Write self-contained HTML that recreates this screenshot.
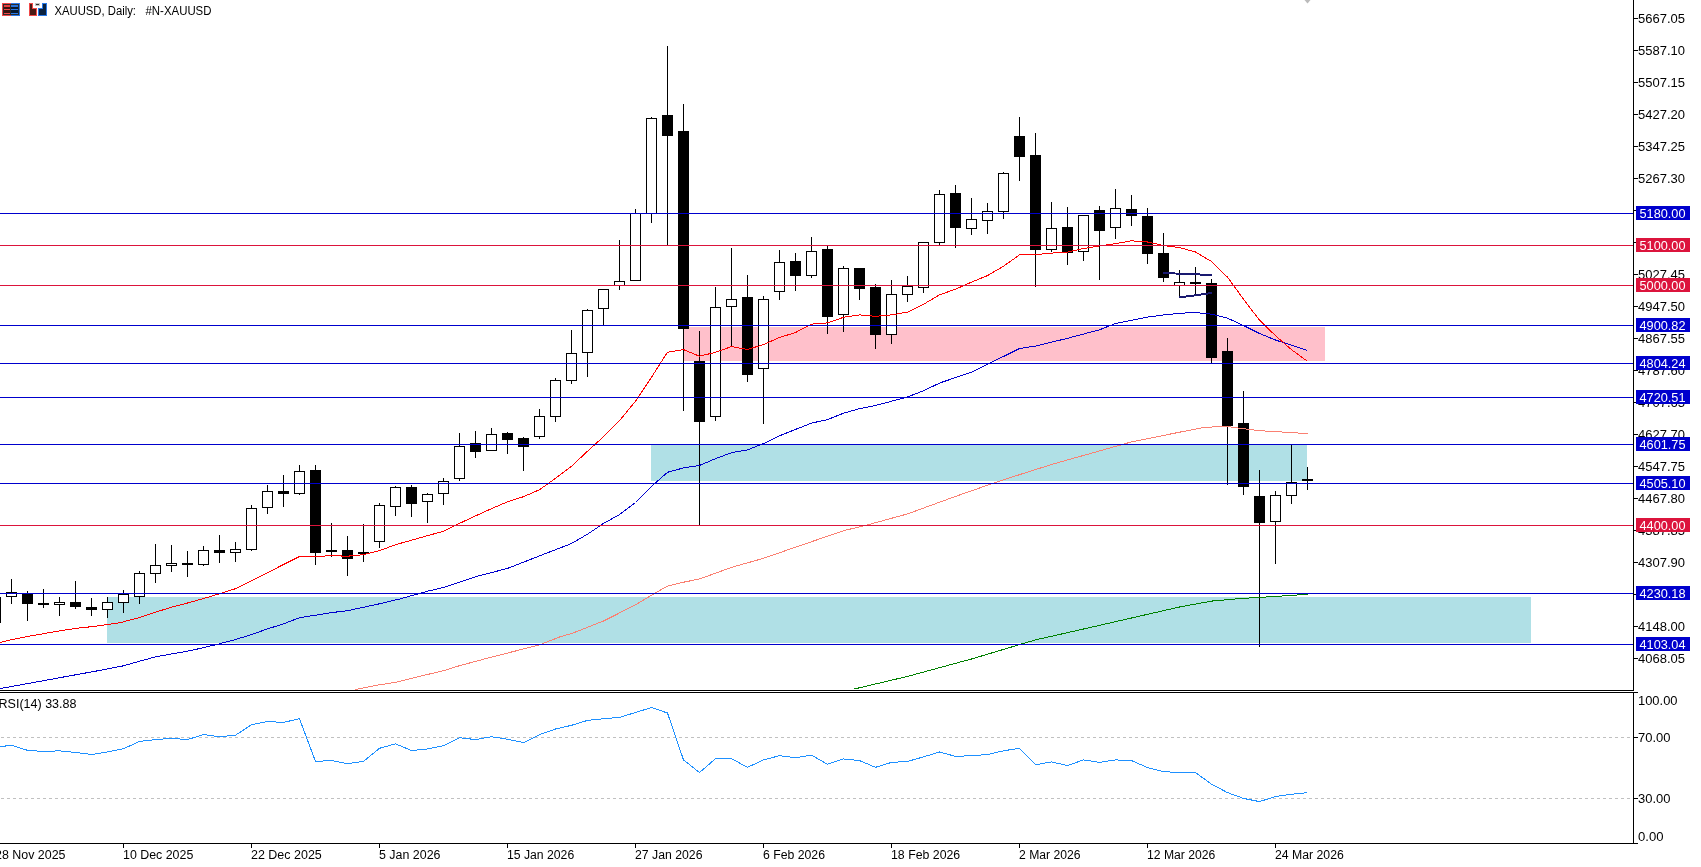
<!DOCTYPE html>
<html><head><meta charset="utf-8"><title>XAUUSD, Daily</title>
<style>html,body{margin:0;padding:0;background:#fff;overflow:hidden}svg{display:block;will-change:transform}
text{font-family:'Liberation Sans',Arial,sans-serif;font-size:12px}</style></head>
<body>
<svg width="1701" height="867" viewBox="0 0 1701 867" shape-rendering="crispEdges">
<rect x="0" y="0" width="1701" height="867" fill="#FFFFFF"/>
<defs><clipPath id="mc"><rect x="0" y="0" width="1633" height="690"/></clipPath><clipPath id="rc"><rect x="0" y="693" width="1633" height="150"/></clipPath></defs>
<g clip-path="url(#mc)">
<rect x="683" y="327" width="642" height="34" fill="#FFC0CB"/>
<rect x="651" y="445" width="656" height="36" fill="#B0E0E6"/>
<rect x="107" y="597" width="1424" height="46" fill="#B0E0E6"/>
<rect x="-5" y="590" width="1" height="39" fill="#000"/>
<rect x="-10" y="597" width="11" height="26" fill="#000"/>
<rect x="11" y="579" width="1" height="25" fill="#000"/>
<rect x="6" y="592" width="11" height="5" fill="#000"/>
<rect x="7" y="593" width="9" height="3" fill="#FFF"/>
<rect x="27" y="591" width="1" height="30" fill="#000"/>
<rect x="22" y="593" width="11" height="11" fill="#000"/>
<rect x="43" y="589" width="1" height="19" fill="#000"/>
<rect x="38" y="603" width="11" height="2" fill="#000"/>
<rect x="59" y="597" width="1" height="19" fill="#000"/>
<rect x="54" y="602" width="11" height="3" fill="#000"/>
<rect x="55" y="603" width="9" height="1" fill="#FFF"/>
<rect x="75" y="581" width="1" height="28" fill="#000"/>
<rect x="70" y="602" width="11" height="5" fill="#000"/>
<rect x="91" y="598" width="1" height="18" fill="#000"/>
<rect x="86" y="607" width="11" height="3" fill="#000"/>
<rect x="107" y="597" width="1" height="21" fill="#000"/>
<rect x="102" y="602" width="11" height="8" fill="#000"/>
<rect x="103" y="603" width="9" height="6" fill="#FFF"/>
<rect x="123" y="590" width="1" height="23" fill="#000"/>
<rect x="118" y="594" width="11" height="9" fill="#000"/>
<rect x="119" y="595" width="9" height="7" fill="#FFF"/>
<rect x="139" y="571" width="1" height="33" fill="#000"/>
<rect x="134" y="573" width="11" height="24" fill="#000"/>
<rect x="135" y="574" width="9" height="22" fill="#FFF"/>
<rect x="155" y="544" width="1" height="39" fill="#000"/>
<rect x="150" y="565" width="11" height="9" fill="#000"/>
<rect x="151" y="566" width="9" height="7" fill="#FFF"/>
<rect x="171" y="545" width="1" height="27" fill="#000"/>
<rect x="166" y="563" width="11" height="3" fill="#000"/>
<rect x="167" y="564" width="9" height="1" fill="#FFF"/>
<rect x="187" y="551" width="1" height="26" fill="#000"/>
<rect x="182" y="563" width="11" height="2" fill="#000"/>
<rect x="203" y="546" width="1" height="20" fill="#000"/>
<rect x="198" y="550" width="11" height="15" fill="#000"/>
<rect x="199" y="551" width="9" height="13" fill="#FFF"/>
<rect x="219" y="535" width="1" height="28" fill="#000"/>
<rect x="214" y="550" width="11" height="3" fill="#000"/>
<rect x="235" y="542" width="1" height="20" fill="#000"/>
<rect x="230" y="549" width="11" height="4" fill="#000"/>
<rect x="231" y="550" width="9" height="2" fill="#FFF"/>
<rect x="251" y="505" width="1" height="46" fill="#000"/>
<rect x="246" y="508" width="11" height="42" fill="#000"/>
<rect x="247" y="509" width="9" height="40" fill="#FFF"/>
<rect x="267" y="485" width="1" height="29" fill="#000"/>
<rect x="262" y="491" width="11" height="17" fill="#000"/>
<rect x="263" y="492" width="9" height="15" fill="#FFF"/>
<rect x="283" y="475" width="1" height="32" fill="#000"/>
<rect x="278" y="491" width="11" height="3" fill="#000"/>
<rect x="299" y="465" width="1" height="30" fill="#000"/>
<rect x="294" y="471" width="11" height="23" fill="#000"/>
<rect x="295" y="472" width="9" height="21" fill="#FFF"/>
<rect x="315" y="465" width="1" height="100" fill="#000"/>
<rect x="310" y="470" width="11" height="83" fill="#000"/>
<rect x="331" y="523" width="1" height="34" fill="#000"/>
<rect x="326" y="550" width="11" height="2" fill="#000"/>
<rect x="347" y="536" width="1" height="40" fill="#000"/>
<rect x="342" y="550" width="11" height="9" fill="#000"/>
<rect x="363" y="524" width="1" height="38" fill="#000"/>
<rect x="358" y="552" width="11" height="2" fill="#000"/>
<rect x="379" y="503" width="1" height="45" fill="#000"/>
<rect x="374" y="505" width="11" height="37" fill="#000"/>
<rect x="375" y="506" width="9" height="35" fill="#FFF"/>
<rect x="395" y="486" width="1" height="30" fill="#000"/>
<rect x="390" y="487" width="11" height="20" fill="#000"/>
<rect x="391" y="488" width="9" height="18" fill="#FFF"/>
<rect x="411" y="485" width="1" height="32" fill="#000"/>
<rect x="406" y="487" width="11" height="17" fill="#000"/>
<rect x="427" y="493" width="1" height="30" fill="#000"/>
<rect x="422" y="494" width="11" height="8" fill="#000"/>
<rect x="423" y="495" width="9" height="6" fill="#FFF"/>
<rect x="443" y="478" width="1" height="27" fill="#000"/>
<rect x="438" y="481" width="11" height="13" fill="#000"/>
<rect x="439" y="482" width="9" height="11" fill="#FFF"/>
<rect x="459" y="433" width="1" height="48" fill="#000"/>
<rect x="454" y="446" width="11" height="33" fill="#000"/>
<rect x="455" y="447" width="9" height="31" fill="#FFF"/>
<rect x="475" y="431" width="1" height="27" fill="#000"/>
<rect x="470" y="443" width="11" height="9" fill="#000"/>
<rect x="491" y="428" width="1" height="23" fill="#000"/>
<rect x="486" y="434" width="11" height="17" fill="#000"/>
<rect x="487" y="435" width="9" height="15" fill="#FFF"/>
<rect x="507" y="432" width="1" height="22" fill="#000"/>
<rect x="502" y="433" width="11" height="7" fill="#000"/>
<rect x="523" y="437" width="1" height="34" fill="#000"/>
<rect x="518" y="438" width="11" height="9" fill="#000"/>
<rect x="539" y="409" width="1" height="30" fill="#000"/>
<rect x="534" y="416" width="11" height="21" fill="#000"/>
<rect x="535" y="417" width="9" height="19" fill="#FFF"/>
<rect x="555" y="378" width="1" height="44" fill="#000"/>
<rect x="550" y="380" width="11" height="37" fill="#000"/>
<rect x="551" y="381" width="9" height="35" fill="#FFF"/>
<rect x="571" y="330" width="1" height="54" fill="#000"/>
<rect x="566" y="353" width="11" height="28" fill="#000"/>
<rect x="567" y="354" width="9" height="26" fill="#FFF"/>
<rect x="587" y="309" width="1" height="68" fill="#000"/>
<rect x="582" y="310" width="11" height="43" fill="#000"/>
<rect x="583" y="311" width="9" height="41" fill="#FFF"/>
<rect x="603" y="289" width="1" height="37" fill="#000"/>
<rect x="598" y="289" width="11" height="20" fill="#000"/>
<rect x="599" y="290" width="9" height="18" fill="#FFF"/>
<rect x="619" y="240" width="1" height="50" fill="#000"/>
<rect x="614" y="281" width="11" height="5" fill="#000"/>
<rect x="615" y="282" width="9" height="3" fill="#FFF"/>
<rect x="635" y="209" width="1" height="72" fill="#000"/>
<rect x="630" y="213" width="11" height="68" fill="#000"/>
<rect x="631" y="214" width="9" height="66" fill="#FFF"/>
<rect x="651" y="117" width="1" height="106" fill="#000"/>
<rect x="646" y="118" width="11" height="96" fill="#000"/>
<rect x="647" y="119" width="9" height="94" fill="#FFF"/>
<rect x="667" y="46" width="1" height="199" fill="#000"/>
<rect x="662" y="115" width="11" height="21" fill="#000"/>
<rect x="683" y="104" width="1" height="307" fill="#000"/>
<rect x="678" y="131" width="11" height="198" fill="#000"/>
<rect x="699" y="331" width="1" height="194" fill="#000"/>
<rect x="694" y="361" width="11" height="61" fill="#000"/>
<rect x="715" y="287" width="1" height="134" fill="#000"/>
<rect x="710" y="307" width="11" height="110" fill="#000"/>
<rect x="711" y="308" width="9" height="108" fill="#FFF"/>
<rect x="731" y="248" width="1" height="98" fill="#000"/>
<rect x="726" y="299" width="11" height="8" fill="#000"/>
<rect x="727" y="300" width="9" height="6" fill="#FFF"/>
<rect x="747" y="275" width="1" height="107" fill="#000"/>
<rect x="742" y="297" width="11" height="78" fill="#000"/>
<rect x="763" y="296" width="1" height="128" fill="#000"/>
<rect x="758" y="299" width="11" height="70" fill="#000"/>
<rect x="759" y="300" width="9" height="68" fill="#FFF"/>
<rect x="779" y="250" width="1" height="50" fill="#000"/>
<rect x="774" y="262" width="11" height="30" fill="#000"/>
<rect x="775" y="263" width="9" height="28" fill="#FFF"/>
<rect x="795" y="253" width="1" height="38" fill="#000"/>
<rect x="790" y="261" width="11" height="15" fill="#000"/>
<rect x="811" y="237" width="1" height="41" fill="#000"/>
<rect x="806" y="251" width="11" height="25" fill="#000"/>
<rect x="807" y="252" width="9" height="23" fill="#FFF"/>
<rect x="827" y="246" width="1" height="88" fill="#000"/>
<rect x="822" y="249" width="11" height="68" fill="#000"/>
<rect x="843" y="266" width="1" height="66" fill="#000"/>
<rect x="838" y="268" width="11" height="47" fill="#000"/>
<rect x="839" y="269" width="9" height="45" fill="#FFF"/>
<rect x="859" y="268" width="1" height="32" fill="#000"/>
<rect x="854" y="268" width="11" height="21" fill="#000"/>
<rect x="875" y="284" width="1" height="65" fill="#000"/>
<rect x="870" y="287" width="11" height="48" fill="#000"/>
<rect x="891" y="280" width="1" height="64" fill="#000"/>
<rect x="886" y="294" width="11" height="41" fill="#000"/>
<rect x="887" y="295" width="9" height="39" fill="#FFF"/>
<rect x="907" y="276" width="1" height="26" fill="#000"/>
<rect x="902" y="286" width="11" height="9" fill="#000"/>
<rect x="903" y="287" width="9" height="7" fill="#FFF"/>
<rect x="923" y="242" width="1" height="51" fill="#000"/>
<rect x="918" y="242" width="11" height="46" fill="#000"/>
<rect x="919" y="243" width="9" height="44" fill="#FFF"/>
<rect x="939" y="190" width="1" height="56" fill="#000"/>
<rect x="934" y="194" width="11" height="49" fill="#000"/>
<rect x="935" y="195" width="9" height="47" fill="#FFF"/>
<rect x="955" y="185" width="1" height="63" fill="#000"/>
<rect x="950" y="193" width="11" height="35" fill="#000"/>
<rect x="971" y="198" width="1" height="37" fill="#000"/>
<rect x="966" y="219" width="11" height="10" fill="#000"/>
<rect x="967" y="220" width="9" height="8" fill="#FFF"/>
<rect x="987" y="203" width="1" height="31" fill="#000"/>
<rect x="982" y="211" width="11" height="10" fill="#000"/>
<rect x="983" y="212" width="9" height="8" fill="#FFF"/>
<rect x="1003" y="172" width="1" height="47" fill="#000"/>
<rect x="998" y="173" width="11" height="39" fill="#000"/>
<rect x="999" y="174" width="9" height="37" fill="#FFF"/>
<rect x="1019" y="117" width="1" height="64" fill="#000"/>
<rect x="1014" y="136" width="11" height="21" fill="#000"/>
<rect x="1035" y="133" width="1" height="154" fill="#000"/>
<rect x="1030" y="155" width="11" height="95" fill="#000"/>
<rect x="1051" y="202" width="1" height="50" fill="#000"/>
<rect x="1046" y="228" width="11" height="22" fill="#000"/>
<rect x="1047" y="229" width="9" height="20" fill="#FFF"/>
<rect x="1067" y="207" width="1" height="58" fill="#000"/>
<rect x="1062" y="227" width="11" height="26" fill="#000"/>
<rect x="1083" y="215" width="1" height="46" fill="#000"/>
<rect x="1078" y="215" width="11" height="37" fill="#000"/>
<rect x="1079" y="216" width="9" height="35" fill="#FFF"/>
<rect x="1099" y="206" width="1" height="74" fill="#000"/>
<rect x="1094" y="210" width="11" height="21" fill="#000"/>
<rect x="1115" y="189" width="1" height="50" fill="#000"/>
<rect x="1110" y="208" width="11" height="20" fill="#000"/>
<rect x="1111" y="209" width="9" height="18" fill="#FFF"/>
<rect x="1131" y="195" width="1" height="31" fill="#000"/>
<rect x="1126" y="209" width="11" height="7" fill="#000"/>
<rect x="1147" y="208" width="1" height="56" fill="#000"/>
<rect x="1142" y="216" width="11" height="38" fill="#000"/>
<rect x="1163" y="233" width="1" height="49" fill="#000"/>
<rect x="1158" y="253" width="11" height="25" fill="#000"/>
<rect x="1179" y="270" width="1" height="28" fill="#000"/>
<rect x="1174" y="282" width="11" height="4" fill="#000"/>
<rect x="1175" y="283" width="9" height="2" fill="#FFF"/>
<rect x="1195" y="267" width="1" height="29" fill="#000"/>
<rect x="1190" y="282" width="11" height="2" fill="#000"/>
<rect x="1211" y="279" width="1" height="84" fill="#000"/>
<rect x="1206" y="283" width="11" height="75" fill="#000"/>
<rect x="1227" y="338" width="1" height="147" fill="#000"/>
<rect x="1222" y="351" width="11" height="75" fill="#000"/>
<rect x="1243" y="391" width="1" height="104" fill="#000"/>
<rect x="1238" y="423" width="11" height="64" fill="#000"/>
<rect x="1259" y="470" width="1" height="177" fill="#000"/>
<rect x="1254" y="496" width="11" height="27" fill="#000"/>
<rect x="1275" y="491" width="1" height="73" fill="#000"/>
<rect x="1270" y="495" width="11" height="27" fill="#000"/>
<rect x="1271" y="496" width="9" height="25" fill="#FFF"/>
<rect x="1291" y="445" width="1" height="59" fill="#000"/>
<rect x="1286" y="482" width="11" height="14" fill="#000"/>
<rect x="1287" y="483" width="9" height="12" fill="#FFF"/>
<rect x="1307" y="467" width="1" height="23" fill="#000"/>
<rect x="1302" y="479" width="11" height="2" fill="#000"/>
<path d="M355.5,689.5 L379.5,684.8 L395.5,682.3 L411.5,678.4 L427.5,674.5 L443.5,670.7 L459.5,665.7 L491.5,657.1 L539.5,644.9 L560.5,636.6 L571.5,633.6 L603.5,621.0 L635.5,604.9 L651.5,595.2 L667.5,586.1 L683.5,582.2 L699.5,579.0 L731.5,567.4 L763.5,558.3 L780.5,552.4 L843.5,530.7 L867.5,524.9 L907.5,513.9 L955.5,496.4 L1000.5,480.7 L1051.5,464.5 L1115.5,446.4 L1131.5,441.9 L1179.5,432.2 L1203.5,427.5 L1219.5,426.6 L1227.5,426.6 L1243.5,428.7 L1259.5,430.7 L1275.5,431.6 L1291.5,432.6 L1307.5,433.6" fill="none" stroke="#FA8072" stroke-width="1" />
<path d="M853.5,689.2 L907.5,676.4 L971.5,659.0 L1019.5,644.6 L1035.5,639.9 L1080.5,629.7 L1131.5,618.0 L1179.5,607.0 L1211.5,601.1 L1243.5,598.3 L1259.5,597.4 L1291.5,595.4 L1307.5,594.3" fill="none" stroke="#008000" stroke-width="1" />
<path d="M0.5,688.5 L107.5,669.0 L123.5,665.8 L139.5,661.2 L155.5,656.9 L171.5,654.0 L187.5,651.2 L203.5,647.7 L219.5,643.8 L235.5,639.5 L251.5,634.6 L267.5,628.9 L283.5,623.9 L299.5,617.7 L315.5,615.2 L331.5,612.6 L347.5,610.7 L379.5,603.8 L400.5,598.8 L427.5,591.2 L443.5,587.5 L475.5,576.7 L507.5,568.4 L539.5,555.9 L571.5,543.5 L587.5,534.2 L603.5,523.4 L619.5,514.6 L635.5,502.5 L651.5,486.4 L667.5,472.3 L683.5,467.9 L699.5,465.4 L715.5,458.7 L731.5,452.7 L747.5,449.9 L763.5,443.6 L779.5,435.8 L811.5,423.1 L827.5,419.6 L843.5,413.2 L859.5,408.6 L875.5,405.5 L907.5,397.0 L923.5,390.7 L940.5,382.7 L971.5,372.2 L987.5,364.4 L1019.5,348.5 L1035.5,346.1 L1067.5,338.3 L1099.5,329.8 L1115.5,323.5 L1147.5,317.1 L1163.5,315.0 L1179.5,313.3 L1195.5,312.5 L1211.5,314.2 L1227.5,318.2 L1243.5,325.5 L1259.5,333.5 L1275.5,340.0 L1291.5,345.2 L1307.5,350.5" fill="none" stroke="#0000CD" stroke-width="1" />
<path d="M0.5,642.5 L11.5,639.7 L27.5,636.5 L43.5,633.7 L59.5,630.9 L75.5,628.4 L91.5,626.7 L107.5,624.5 L120.5,622.6 L139.5,617.5 L155.5,612.2 L171.5,607.2 L187.5,603.0 L203.5,598.5 L219.5,593.8 L235.5,588.7 L299.5,556.5 L315.5,556.5 L331.5,555.7 L347.5,556.2 L363.5,554.7 L379.5,550.7 L395.5,544.7 L411.5,540.2 L427.5,535.7 L443.5,531.2 L459.5,523.4 L475.5,515.9 L491.5,508.7 L507.5,501.8 L523.5,496.7 L539.5,489.7 L555.5,478.3 L571.5,466.3 L587.5,451.2 L603.5,436.7 L619.5,420.7 L635.5,401.2 L651.5,377.2 L667.5,352.2 L683.5,349.6 L699.5,356.2 L715.5,352.3 L731.5,346.6 L747.5,349.5 L763.5,344.5 L779.5,337.5 L795.5,332.5 L811.5,324.1 L827.5,322.9 L843.5,317.3 L859.5,314.9 L875.5,316.3 L891.5,314.9 L907.5,312.1 L923.5,304.3 L939.5,294.8 L955.5,289.2 L971.5,282.1 L987.5,275.6 L1003.5,266.2 L1019.5,254.9 L1035.5,254.6 L1051.5,253.1 L1067.5,252.1 L1083.5,248.5 L1099.5,246.0 L1115.5,243.6 L1131.5,240.8 L1147.5,242.0 L1163.5,245.5 L1179.5,247.6 L1195.5,252.0 L1211.5,261.5 L1227.5,277.2 L1243.5,299.2 L1259.5,320.2 L1275.5,335.7 L1291.5,349.7 L1307.5,361.3" fill="none" stroke="#FF0000" stroke-width="1" />
<rect x="0" y="213" width="1633" height="1" fill="#0000CD"/>
<rect x="0" y="245" width="1633" height="1" fill="#DC143C"/>
<rect x="0" y="285" width="1633" height="1" fill="#DC143C"/>
<rect x="0" y="325" width="1633" height="1" fill="#0000CD"/>
<rect x="0" y="363" width="1633" height="1" fill="#0000CD"/>
<rect x="0" y="397" width="1633" height="1" fill="#0000CD"/>
<rect x="0" y="444" width="1633" height="1" fill="#0000CD"/>
<rect x="0" y="483" width="1633" height="1" fill="#0000CD"/>
<rect x="0" y="525" width="1633" height="1" fill="#DC143C"/>
<rect x="0" y="593" width="1633" height="1" fill="#0000CD"/>
<rect x="0" y="644" width="1633" height="1" fill="#0000CD"/>
<path d="M1163,273 L1212,275" stroke="#191970" stroke-width="2" fill="none"/>
<path d="M1179,297.5 L1212,293" stroke="#191970" stroke-width="2" fill="none"/>
</g>
<path d="M1304.5,0 L1310.5,0 L1307.5,3.5 Z" fill="#BBBBBB" shape-rendering="auto"/>
<rect x="1633" y="0" width="1" height="691" fill="#000"/>
<rect x="0" y="690" width="1634" height="1" fill="#000"/>
<rect x="0" y="692" width="1638" height="1" fill="#000"/>
<rect x="1633" y="692" width="1" height="152" fill="#000"/>
<rect x="0" y="843" width="1638" height="1" fill="#000"/>
<g style="font-family:'Liberation Sans',Arial,sans-serif;font-size:12px" fill="#000" shape-rendering="crispEdges">
<rect x="1634" y="18" width="4" height="1" fill="#000"/>
<text x="1638" y="22.5" textLength="47" lengthAdjust="spacingAndGlyphs" style="font-family:'Liberation Sans',Arial,sans-serif;font-size:12px">5667.05</text>
<rect x="1634" y="50" width="4" height="1" fill="#000"/>
<text x="1638" y="54.5" textLength="47" lengthAdjust="spacingAndGlyphs" style="font-family:'Liberation Sans',Arial,sans-serif;font-size:12px">5587.10</text>
<rect x="1634" y="82" width="4" height="1" fill="#000"/>
<text x="1638" y="86.5" textLength="47" lengthAdjust="spacingAndGlyphs" style="font-family:'Liberation Sans',Arial,sans-serif;font-size:12px">5507.15</text>
<rect x="1634" y="114" width="4" height="1" fill="#000"/>
<text x="1638" y="118.5" textLength="47" lengthAdjust="spacingAndGlyphs" style="font-family:'Liberation Sans',Arial,sans-serif;font-size:12px">5427.20</text>
<rect x="1634" y="146" width="4" height="1" fill="#000"/>
<text x="1638" y="150.5" textLength="47" lengthAdjust="spacingAndGlyphs" style="font-family:'Liberation Sans',Arial,sans-serif;font-size:12px">5347.25</text>
<rect x="1634" y="178" width="4" height="1" fill="#000"/>
<text x="1638" y="182.5" textLength="47" lengthAdjust="spacingAndGlyphs" style="font-family:'Liberation Sans',Arial,sans-serif;font-size:12px">5267.30</text>
<rect x="1634" y="210" width="4" height="1" fill="#000"/>
<text x="1638" y="214.5" textLength="47" lengthAdjust="spacingAndGlyphs" style="font-family:'Liberation Sans',Arial,sans-serif;font-size:12px">5187.35</text>
<rect x="1634" y="242" width="4" height="1" fill="#000"/>
<text x="1638" y="246.5" textLength="47" lengthAdjust="spacingAndGlyphs" style="font-family:'Liberation Sans',Arial,sans-serif;font-size:12px">5107.40</text>
<rect x="1634" y="274" width="4" height="1" fill="#000"/>
<text x="1638" y="278.5" textLength="47" lengthAdjust="spacingAndGlyphs" style="font-family:'Liberation Sans',Arial,sans-serif;font-size:12px">5027.45</text>
<rect x="1634" y="306" width="4" height="1" fill="#000"/>
<text x="1638" y="310.5" textLength="47" lengthAdjust="spacingAndGlyphs" style="font-family:'Liberation Sans',Arial,sans-serif;font-size:12px">4947.50</text>
<rect x="1634" y="338" width="4" height="1" fill="#000"/>
<text x="1638" y="342.5" textLength="47" lengthAdjust="spacingAndGlyphs" style="font-family:'Liberation Sans',Arial,sans-serif;font-size:12px">4867.55</text>
<rect x="1634" y="370" width="4" height="1" fill="#000"/>
<text x="1638" y="374.5" textLength="47" lengthAdjust="spacingAndGlyphs" style="font-family:'Liberation Sans',Arial,sans-serif;font-size:12px">4787.60</text>
<rect x="1634" y="402" width="4" height="1" fill="#000"/>
<text x="1638" y="406.5" textLength="47" lengthAdjust="spacingAndGlyphs" style="font-family:'Liberation Sans',Arial,sans-serif;font-size:12px">4707.65</text>
<rect x="1634" y="434" width="4" height="1" fill="#000"/>
<text x="1638" y="438.5" textLength="47" lengthAdjust="spacingAndGlyphs" style="font-family:'Liberation Sans',Arial,sans-serif;font-size:12px">4627.70</text>
<rect x="1634" y="466" width="4" height="1" fill="#000"/>
<text x="1638" y="470.5" textLength="47" lengthAdjust="spacingAndGlyphs" style="font-family:'Liberation Sans',Arial,sans-serif;font-size:12px">4547.75</text>
<rect x="1634" y="498" width="4" height="1" fill="#000"/>
<text x="1638" y="502.5" textLength="47" lengthAdjust="spacingAndGlyphs" style="font-family:'Liberation Sans',Arial,sans-serif;font-size:12px">4467.80</text>
<rect x="1634" y="530" width="4" height="1" fill="#000"/>
<text x="1638" y="534.5" textLength="47" lengthAdjust="spacingAndGlyphs" style="font-family:'Liberation Sans',Arial,sans-serif;font-size:12px">4387.85</text>
<rect x="1634" y="562" width="4" height="1" fill="#000"/>
<text x="1638" y="566.5" textLength="47" lengthAdjust="spacingAndGlyphs" style="font-family:'Liberation Sans',Arial,sans-serif;font-size:12px">4307.90</text>
<rect x="1634" y="594" width="4" height="1" fill="#000"/>
<text x="1638" y="598.5" textLength="47" lengthAdjust="spacingAndGlyphs" style="font-family:'Liberation Sans',Arial,sans-serif;font-size:12px">4227.95</text>
<rect x="1634" y="626" width="4" height="1" fill="#000"/>
<text x="1638" y="630.5" textLength="47" lengthAdjust="spacingAndGlyphs" style="font-family:'Liberation Sans',Arial,sans-serif;font-size:12px">4148.00</text>
<rect x="1634" y="658" width="4" height="1" fill="#000"/>
<text x="1638" y="662.5" textLength="47" lengthAdjust="spacingAndGlyphs" style="font-family:'Liberation Sans',Arial,sans-serif;font-size:12px">4068.05</text>
</g>
<rect x="1636" y="206" width="54" height="14" fill="#0000CD"/>
<text x="1639.5" y="217.5" fill="#FFF" textLength="46" lengthAdjust="spacingAndGlyphs" style="font-family:'Liberation Sans',Arial,sans-serif;font-size:12px">5180.00</text>
<rect x="1636" y="238" width="54" height="14" fill="#DC143C"/>
<text x="1639.5" y="249.5" fill="#FFF" textLength="46" lengthAdjust="spacingAndGlyphs" style="font-family:'Liberation Sans',Arial,sans-serif;font-size:12px">5100.00</text>
<rect x="1636" y="278" width="54" height="14" fill="#DC143C"/>
<text x="1639.5" y="289.5" fill="#FFF" textLength="46" lengthAdjust="spacingAndGlyphs" style="font-family:'Liberation Sans',Arial,sans-serif;font-size:12px">5000.00</text>
<rect x="1636" y="318" width="54" height="14" fill="#0000CD"/>
<text x="1639.5" y="329.5" fill="#FFF" textLength="46" lengthAdjust="spacingAndGlyphs" style="font-family:'Liberation Sans',Arial,sans-serif;font-size:12px">4900.82</text>
<rect x="1636" y="356" width="54" height="14" fill="#0000CD"/>
<text x="1639.5" y="367.5" fill="#FFF" textLength="46" lengthAdjust="spacingAndGlyphs" style="font-family:'Liberation Sans',Arial,sans-serif;font-size:12px">4804.24</text>
<rect x="1636" y="390" width="54" height="14" fill="#0000CD"/>
<text x="1639.5" y="401.5" fill="#FFF" textLength="46" lengthAdjust="spacingAndGlyphs" style="font-family:'Liberation Sans',Arial,sans-serif;font-size:12px">4720.51</text>
<rect x="1636" y="437" width="54" height="14" fill="#0000CD"/>
<text x="1639.5" y="448.5" fill="#FFF" textLength="46" lengthAdjust="spacingAndGlyphs" style="font-family:'Liberation Sans',Arial,sans-serif;font-size:12px">4601.75</text>
<rect x="1636" y="476" width="54" height="14" fill="#0000CD"/>
<text x="1639.5" y="487.5" fill="#FFF" textLength="46" lengthAdjust="spacingAndGlyphs" style="font-family:'Liberation Sans',Arial,sans-serif;font-size:12px">4505.10</text>
<rect x="1636" y="518" width="54" height="14" fill="#DC143C"/>
<text x="1639.5" y="529.5" fill="#FFF" textLength="46" lengthAdjust="spacingAndGlyphs" style="font-family:'Liberation Sans',Arial,sans-serif;font-size:12px">4400.00</text>
<rect x="1636" y="586" width="54" height="14" fill="#0000CD"/>
<text x="1639.5" y="597.5" fill="#FFF" textLength="46" lengthAdjust="spacingAndGlyphs" style="font-family:'Liberation Sans',Arial,sans-serif;font-size:12px">4230.18</text>
<rect x="1636" y="637" width="54" height="14" fill="#0000CD"/>
<text x="1639.5" y="648.5" fill="#FFF" textLength="46" lengthAdjust="spacingAndGlyphs" style="font-family:'Liberation Sans',Arial,sans-serif;font-size:12px">4103.04</text>
<g clip-path="url(#rc)">
<path d="M1,737.5 H1633 M1,798.5 H1633" stroke="#C0C0C0" stroke-width="1" stroke-dasharray="3,3"/>
<path d="M0.5,746.6 L11.5,745.3 L27.5,750.3 L43.5,751.5 L59.5,750.8 L75.5,752.5 L91.5,754.5 L107.5,752.0 L123.5,748.8 L139.5,741.4 L155.5,739.6 L171.5,738.4 L187.5,739.6 L203.5,734.5 L219.5,736.7 L235.5,735.2 L251.5,724.8 L267.5,721.6 L283.5,722.4 L299.5,718.7 L315.5,761.4 L331.5,760.6 L347.5,763.6 L363.5,761.4 L379.5,748.3 L395.5,743.8 L411.5,750.5 L427.5,749.0 L443.5,745.8 L459.5,737.7 L475.5,739.6 L491.5,736.7 L507.5,739.2 L523.5,742.6 L539.5,734.7 L555.5,729.0 L571.5,725.3 L587.5,720.4 L603.5,718.7 L619.5,717.4 L635.5,712.5 L651.5,707.5 L667.5,713.0 L683.5,759.9 L699.5,772.5 L715.5,758.7 L731.5,758.7 L747.5,767.3 L763.5,759.9 L779.5,755.7 L795.5,757.7 L811.5,755.2 L827.5,764.3 L843.5,758.9 L859.5,760.6 L875.5,767.3 L891.5,762.4 L907.5,761.4 L923.5,756.9 L939.5,752.0 L955.5,756.4 L971.5,755.7 L987.5,754.5 L1003.5,750.8 L1019.5,748.3 L1035.5,764.8 L1051.5,761.9 L1067.5,765.6 L1083.5,759.9 L1099.5,762.4 L1115.5,759.9 L1131.5,760.6 L1147.5,767.5 L1163.5,771.7 L1179.5,772.5 L1195.5,772.5 L1211.5,784.2 L1227.5,792.6 L1243.5,798.4 L1259.5,801.6 L1275.5,796.5 L1291.5,794.3 L1307.5,792.6" fill="none" stroke="#1E90FF" stroke-width="1" />
</g>
<rect x="1634" y="692" width="4" height="1" fill="#000"/>
<text x="1638" y="704.5" textLength="39.5" lengthAdjust="spacingAndGlyphs" style="font-family:'Liberation Sans',Arial,sans-serif;font-size:12px">100.00</text>
<rect x="1634" y="737" width="4" height="1" fill="#000"/>
<text x="1638" y="742" textLength="32.5" lengthAdjust="spacingAndGlyphs" style="font-family:'Liberation Sans',Arial,sans-serif;font-size:12px">70.00</text>
<rect x="1634" y="798" width="4" height="1" fill="#000"/>
<text x="1638" y="802.5" textLength="32.5" lengthAdjust="spacingAndGlyphs" style="font-family:'Liberation Sans',Arial,sans-serif;font-size:12px">30.00</text>
<rect x="1634" y="843" width="4" height="1" fill="#000"/>
<text x="1638" y="840.5" textLength="25.5" lengthAdjust="spacingAndGlyphs" style="font-family:'Liberation Sans',Arial,sans-serif;font-size:12px">0.00</text>
<text x="-1.5" y="708" textLength="78" lengthAdjust="spacingAndGlyphs" style="font-family:'Liberation Sans',Arial,sans-serif;font-size:12px">RSI(14) 33.88</text>
<rect x="-5" y="843" width="1" height="5" fill="#000"/>
<text x="-5" y="859" textLength="70.5" lengthAdjust="spacingAndGlyphs" style="font-family:'Liberation Sans',Arial,sans-serif;font-size:12px">28 Nov 2025</text>
<rect x="123" y="843" width="1" height="5" fill="#000"/>
<text x="123" y="859" textLength="70.3" lengthAdjust="spacingAndGlyphs" style="font-family:'Liberation Sans',Arial,sans-serif;font-size:12px">10 Dec 2025</text>
<rect x="251" y="843" width="1" height="5" fill="#000"/>
<text x="251" y="859" textLength="70.8" lengthAdjust="spacingAndGlyphs" style="font-family:'Liberation Sans',Arial,sans-serif;font-size:12px">22 Dec 2025</text>
<rect x="379" y="843" width="1" height="5" fill="#000"/>
<text x="379" y="859" textLength="61.5" lengthAdjust="spacingAndGlyphs" style="font-family:'Liberation Sans',Arial,sans-serif;font-size:12px">5 Jan 2026</text>
<rect x="507" y="843" width="1" height="5" fill="#000"/>
<text x="507" y="859" textLength="67.2" lengthAdjust="spacingAndGlyphs" style="font-family:'Liberation Sans',Arial,sans-serif;font-size:12px">15 Jan 2026</text>
<rect x="635" y="843" width="1" height="5" fill="#000"/>
<text x="635" y="859" textLength="67.5" lengthAdjust="spacingAndGlyphs" style="font-family:'Liberation Sans',Arial,sans-serif;font-size:12px">27 Jan 2026</text>
<rect x="763" y="843" width="1" height="5" fill="#000"/>
<text x="763" y="859" textLength="62" lengthAdjust="spacingAndGlyphs" style="font-family:'Liberation Sans',Arial,sans-serif;font-size:12px">6 Feb 2026</text>
<rect x="891" y="843" width="1" height="5" fill="#000"/>
<text x="891" y="859" textLength="69.2" lengthAdjust="spacingAndGlyphs" style="font-family:'Liberation Sans',Arial,sans-serif;font-size:12px">18 Feb 2026</text>
<rect x="1019" y="843" width="1" height="5" fill="#000"/>
<text x="1019" y="859" textLength="61.5" lengthAdjust="spacingAndGlyphs" style="font-family:'Liberation Sans',Arial,sans-serif;font-size:12px">2 Mar 2026</text>
<rect x="1147" y="843" width="1" height="5" fill="#000"/>
<text x="1147" y="859" textLength="68.3" lengthAdjust="spacingAndGlyphs" style="font-family:'Liberation Sans',Arial,sans-serif;font-size:12px">12 Mar 2026</text>
<rect x="1275" y="843" width="1" height="5" fill="#000"/>
<text x="1275" y="859" textLength="68.8" lengthAdjust="spacingAndGlyphs" style="font-family:'Liberation Sans',Arial,sans-serif;font-size:12px">24 Mar 2026</text>
<text x="54.5" y="15" textLength="81.5" lengthAdjust="spacingAndGlyphs" style="font-family:'Liberation Sans',Arial,sans-serif;font-size:12px">XAUUSD, Daily:</text>
<text x="145.5" y="15" textLength="66" lengthAdjust="spacingAndGlyphs" style="font-family:'Liberation Sans',Arial,sans-serif;font-size:12px">#N-XAUUSD</text>
<g shape-rendering="crispEdges"><rect x="2" y="3" width="9" height="13" fill="#F04848"/><rect x="11" y="3" width="9" height="13" fill="#2A7AE8"/><rect x="3" y="4" width="16" height="11" fill="#2A2A2A"/><rect x="4" y="5" width="6" height="9" fill="#3A1410"/><rect x="11" y="5" width="7" height="9" fill="#061A30"/><rect x="4" y="5" width="6" height="2" fill="#E84040"/><rect x="11" y="5" width="7" height="2" fill="#2A72D8"/><rect x="4" y="9" width="6" height="1" fill="#F04848"/><rect x="11" y="9" width="7" height="1" fill="#2A7AE8"/><rect x="4" y="13" width="6" height="1" fill="#F04848"/><rect x="11" y="13" width="7" height="1" fill="#2A7AE8"/></g>
<g shape-rendering="crispEdges"><path d="M29,3 H33 V8 H37 V16 H29 Z" fill="#F04848"/><path d="M30,4 H32 V9 H36 V15 H30 Z" fill="#4A1A14"/><path d="M42,3 H47 V16 H38 V8 H42 Z" fill="#2A7AE8"/><path d="M43,4 H46 V15 H39 V9 H43 Z" fill="#0A2240"/><rect x="35" y="3" width="5" height="3" fill="#C8C8C8"/><rect x="36" y="4" width="3" height="1" fill="#333"/></g>
</svg>
</body></html>
